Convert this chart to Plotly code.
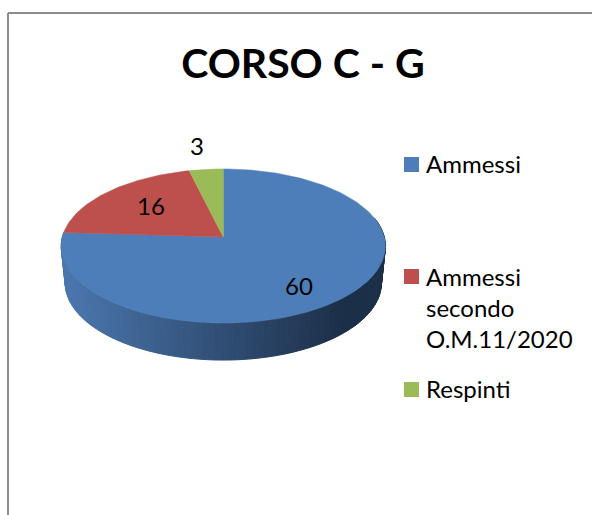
import math
import plotly.graph_objects as go

categories = ["Ammessi", "Ammessi<br>secondo<br>O.M.11/2020", "Respinti"]
values = [60, 16, 3]
colors = ["#4e7eb9", "#bd504d", "#9bbb59"]
title = "CORSO C - G"
FONT = "Lato, Carlito, Calibri, sans-serif"

# projected pie geometry, in page pixels
CX, CY = 223.3, 237.0
RX, RY, P = 161.0, 76.0, 0.117
RX2, CY2 = 157.0, 274.0


def project(deg, rx=RX, cy=CY):
    a = math.radians(deg)
    u, v = math.sin(a), math.cos(a)
    d = 1 + P * v
    return CX + rx * u / d, cy - RY * v / d


def mix(c1, c2, t):
    t = max(0.0, min(1.0, t))
    return "rgb(%d,%d,%d)" % tuple(round(a + (b - a) * t) for a, b in zip(c1, c2))


total = sum(values)
spans = []
start = 0.0
for v in values:
    spans.append((start, start + 360.0 * v / total))
    start += 360.0 * v / total

fig = go.Figure()

# side wall of the first slice
STRIP = 2.0
wall_end = spans[0][1]
deg = 75.0
while deg < wall_end:
    d2 = min(deg + STRIP, wall_end)
    xs, ys = [], []
    for q in (deg, d2):
        x, y = project(q)
        xs.append(x); ys.append(y)
    for q in (d2, deg):
        x, y = project(q, RX2, CY2)
        xs.append(x); ys.append(y)
    xs.append(xs[0]); ys.append(ys[0])
    mx = sum(xs[:4]) / 4
    col = mix((75, 119, 175), (28, 47, 72), (mx - 65) / 275)
    fig.add_trace(go.Scatter(x=xs, y=ys, mode="lines", fill="toself", fillcolor=col,
                             line=dict(color=col, width=1), hoverinfo="skip", showlegend=False))
    deg += STRIP

# top faces
for (a0, a1), col, name in zip(spans, colors, categories):
    n = max(4, int((a1 - a0) / 1.5))
    xs, ys = [CX], [CY]
    for i in range(n + 1):
        x, y = project(a0 + (a1 - a0) * i / n)
        xs.append(x); ys.append(y)
    xs.append(CX); ys.append(CY)
    fig.add_trace(go.Scatter(x=xs, y=ys, mode="lines", fill="toself", fillcolor=col,
                             line=dict(color=col, width=0.5), name=name.replace("<br>", " "),
                             hoverinfo="name", showlegend=False))

# legend swatches
legend_y = [164.5, 276.5, 389.5]
text_y = [163.0, 307.5, 388.0]
fig.add_trace(go.Scatter(x=[411.5] * 3, y=legend_y, mode="markers",
                         marker=dict(symbol="square", size=15, color=colors, line=dict(width=0)),
                         hoverinfo="skip", showlegend=False))

anns = []
for name, y in zip(categories, text_y):
    anns.append(dict(x=424, y=y, text=name, showarrow=False, xanchor="left", yanchor="middle",
                     align="left", font=dict(family=FONT, size=24, color="#000000")))
for v, (x, y) in zip(values, [(299, 285.5), (151, 205.5), (197, 145.5)]):
    anns.append(dict(x=x, y=y, text=str(v), showarrow=False, xanchor="center", yanchor="middle",
                     font=dict(family=FONT, size=24, color="#000000")))

shapes = [
    dict(type="line", xref="x", yref="y", x0=8, x1=8, y0=13, y1=515, line=dict(color="#8c8c8c", width=2)),
    dict(type="line", xref="x", yref="y", x0=8, x1=592, y0=13, y1=13, line=dict(color="#8c8c8c", width=2)),
]

fig.update_layout(
    width=592, height=515, margin=dict(l=0, r=0, t=0, b=0),
    paper_bgcolor="white", plot_bgcolor="white", showlegend=False,
    title=dict(text="<b>%s</b>" % title, x=303 / 592, xanchor="center", xref="paper",
               y=1 - 64 / 515, yanchor="middle", yref="paper",
               font=dict(family=FONT, size=41, color="#000000")),
    xaxis=dict(range=[0, 592], visible=False, fixedrange=True),
    yaxis=dict(range=[515, 0], visible=False, fixedrange=True),
    annotations=anns, shapes=shapes,
)
fig.write_html("out.html", config=dict(displayModeBar=False),
               post_script="document.body.style.margin='0';document.documentElement.style.overflow='hidden';")
